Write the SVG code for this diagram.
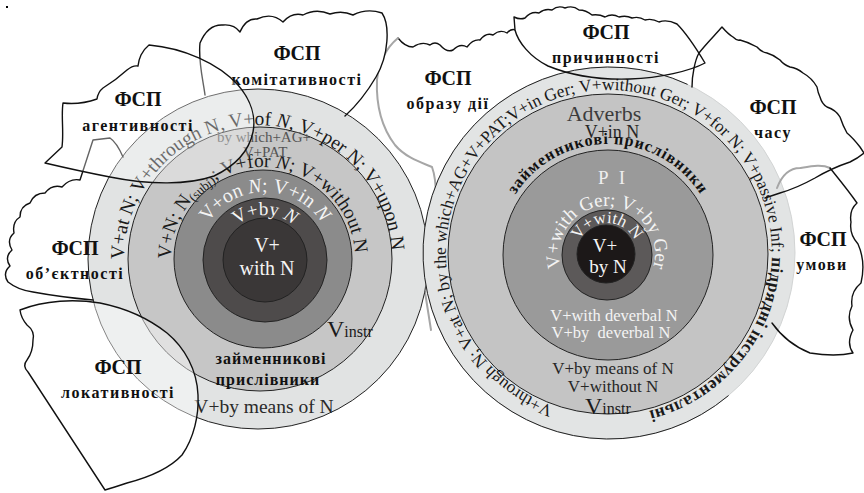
<svg xmlns="http://www.w3.org/2000/svg" width="864" height="493" viewBox="0 0 864 493">
<style>
.bg{fill:#fff;stroke:none}
.edge{fill:none;stroke:#111;stroke-width:1.4;stroke-linejoin:round;stroke-linecap:round}
.fade{fill:none;stroke:#a6a6a6;stroke-width:2;stroke-linecap:round}
.rg{stroke:#222;stroke-width:1}
text{font-family:"Liberation Serif","Times New Roman",serif}
.fsp{font-weight:bold;font-size:20px;text-anchor:middle;fill:#111}
.fsp2{font-weight:bold;font-size:16px;letter-spacing:1.5px;text-anchor:middle;fill:#111}
.rt{font-size:19.5px;fill:#1a1a1a}
.w{fill:#f4f4f4}
.mid{text-anchor:middle}
.it{font-style:italic}
</style>
<defs>
<path id="pLo" d="M126.03,282.27 A134,134 0 1,1 389.97,282.27"/>
<path id="pLc" d="M172.4,275 A92,92 0 1,1 353.6,275"/>
<path id="pLm" d="M198.03,248.19 A68,68 0 0,1 331.97,248.19"/>
<path id="pLd" d="M222.71,244.61 A45,45 0 0,1 307.29,244.61"/>
<path id="pRo" d="M566.8,410.5 A163,163 0 1,1 623.2,415.4"/>
<path id="pRz" d="M504.63,216.38 A110,110 0 0,1 711.37,216.38"/>
<path id="pRg" d="M565.43,278 A48,48 0 1,1 648.57,278"/>
<path id="pRw" d="M576.47,248.62 A31,31 0 0,1 637.53,248.62"/>
</defs>
<rect x="6" y="6" width="2" height="2" fill="#000"/>

<g id="blob-fills">
<g id="fsp-obrazu-dii-shape">
<path class="bg" d="M398,38 Q405,47 413,47 Q422,41 430,45 Q435,41 440,45 Q447,53 453,50 Q460,43 467,47 Q473,39 480,40 Q486,32 493,35 Q500,29 507,33 Q511,28 516,30 L560,60 L520,200 L432,330 L425,260 L436,200 C436,185 435,175 432,167 C420,162 405,157 395,145 C382,128 376,105 377,80 C379,62 386,48 398,38 Z"/>
<path class="edge" d="M398,38 Q405,47 413,47 Q422,41 430,45 Q435,41 440,45 Q447,53 453,50 Q460,43 467,47 Q473,39 480,40 Q486,32 493,35 Q500,29 507,33 Q511,28 516,30"/>
<path class="fade" d="M398,38 C386,48 379,62 377,80 C376,105 382,128 395,145 C405,157 420,162 432,167 C435,175 436,185 436,198"/>
<path class="fade" d="M425,292 C427,305 429,318 431,330"/>
</g>
<path class="bg" d="M200,43 Q208,24 223,25 Q234,24 240,32 Q246,18 257,19 Q272,12 283,22 Q292,12 303,15 Q316,8 330,14 Q342,10 353,15 Q367,8 382,13 C390,25 389,55 376,77 C366,94 356,106 345,116 L300,140 L220,130 C210,115 205,105 205,95 C203,80 198,60 200,43 Z"/>
<path class="bg" d="M93,140 L110,138 C116,142 120,150 123,157 L170,250 L93,300 Q60,297 33,292 Q18,290 8,282 Q2,273 10,266 Q4,257 12,250 Q6,240 14,233 Q12,222 20,217 Q20,206 30,203 Q34,193 45,193 Q52,184 62,187 Q70,178 80,180 C84,168 88,155 93,140 Z"/>
<path class="bg" d="M514,17 Q520,20 525,18 Q531,11 539,13 Q545,8 552,10 Q558,5 565,8 Q573,5 579,10 Q586,10 592,15 Q599,14 605,17 Q612,13 619,17 Q626,15 632,18 Q639,16 645,20 Q652,18 659,22 Q667,19 677,24 C685,32 696,48 705,63 C690,71 660,78 630,79 C600,80 570,75 548,66 C530,57 518,42 515,30 Z"/>
<path class="bg" d="M722,27 Q728,34 733,37 Q737,41 740,40 Q748,42 757,47 Q761,52 767,53 Q774,55 780,60 Q784,65 790,67 Q797,68 803,73 Q812,78 817,87 Q818,93 820,97 Q822,104 827,107 Q836,110 840,117 Q843,126 847,133 Q853,138 860,147 L864,153 Q858,158 850,162 Q832,168 815,178 Q797,188 780,193 L765,198 L700,200 L692,87 C692,75 695,60 699,53 C705,45 715,35 722,27 Z"/>
<path class="bg" d="M777,188 C782,175 790,168 800,168 C812,166 822,164 830,168 C838,178 848,190 857,203 Q849,210 851,222 Q849,234 858,244 Q866,262 861,283 Q850,292 852,306 Q846,318 853,330 Q846,343 853,353 Q835,357 810,353 C795,347 782,337 772,323 L760,250 Z"/>
</g>

<g id="circle-left">
<circle cx="258" cy="259" r="170" fill="#e1e3e3" class="rg"/>
<circle cx="260" cy="259" r="132" fill="#c6c6c6" class="rg"/>
<circle cx="263" cy="259" r="89" fill="#8b8b8b" class="rg"/>
<circle cx="265" cy="260" r="62" fill="#4e4b4b" class="rg"/>
<circle cx="265" cy="260" r="42" fill="#3a3737" class="rg"/>
<text class="rt"><textPath href="#pLo" startOffset="23">V+at N; V+through N, V+of <tspan class="it">N</tspan>, V+per N; V+upon N</textPath></text>
<text class="rt"><textPath href="#pLc" startOffset="16">V+N; N<tspan font-size="13" dy="3">(subj)</tspan><tspan dy="-3">; V+for </tspan><tspan class="it">N</tspan>; V+without N</textPath></text>
<text class="w mid" font-size="20"><textPath href="#pLm" startOffset="50%">V+on <tspan class="it">N</tspan>; V+in <tspan class="it">N</tspan></textPath></text>
<text class="w mid" font-size="19"><textPath href="#pLd" startOffset="50%">V+by <tspan class="it">N</tspan></textPath></text>
<text class="w mid" font-size="20" x="267" y="252">V+</text>
<text class="w mid" font-size="20" x="267" y="275">with N</text>
<text font-size="15" fill="#555" class="mid" x="264" y="142">by which+AG+</text>
<text font-size="15" fill="#555" class="mid" x="265" y="157">V+PAT</text>
<text fill="#1a1a1a" x="327" y="337"><tspan font-size="24">V</tspan><tspan font-size="16">instr</tspan></text>
<text class="fsp2" x="271" y="364" style="letter-spacing:1px">займенникові</text>
<text class="fsp2" x="268" y="385" style="letter-spacing:1px">прислівники</text>
<text class="mid" font-size="19.5" fill="#2a2a2a" x="264" y="413">V+by means of N</text>
</g>

<g id="circle-right">
<circle cx="609" cy="253" r="186" fill="#e2e4e4" stroke="#d2d4d4" stroke-width="1"/>
<path d="M728.6,395.5 A186,186 0 1,1 687.6,84.4" fill="none" stroke="#222" stroke-width="1"/>
<circle cx="608" cy="254" r="160" fill="#c4c4c4" class="rg"/>
<circle cx="608" cy="255" r="105" fill="#9a9a9a" class="rg"/>
<circle cx="607" cy="255" r="45" fill="#5c5959" class="rg"/>
<circle cx="606" cy="254" r="29" fill="#1c1818" class="rg"/>
<text font-size="17.3" fill="#1a1a1a"><textPath href="#pRo" startOffset="14">V+through N; V+at N; by the which+AG+V+PAT;V+in Ger; V+without Ger; V+for N; V+passive Inf; <tspan font-weight="bold" letter-spacing="0.5">підрядні інструментальні</tspan></textPath></text>
<text class="mid" font-size="22" fill="#3c3c3c" x="604" y="121">Adverbs</text>
<text class="mid" font-size="18" fill="#262626" x="612" y="138">V+in N</text>
<text class="mid" font-weight="bold" font-size="16" letter-spacing="1" fill="#111"><textPath href="#pRz" startOffset="50%">займенникові прислівники</textPath></text>
<text class="mid" font-size="19" fill="#eeeeee" letter-spacing="3" x="613" y="184">P I</text>
<text class="w mid" font-size="19"><textPath href="#pRg" startOffset="50%">V+with Ger; V+by Ger</textPath></text>
<text class="w mid" font-size="17"><textPath href="#pRw" startOffset="50%">V+with N</textPath></text>
<text class="w mid" font-size="19" x="605" y="252">V+</text>
<text class="w mid" font-size="19" x="608" y="273">by N</text>
<text class="w mid" font-size="16.5" x="614" y="321">V+with deverbal N</text>
<text class="w mid" font-size="16.5" x="611" y="338">V+by&#160; deverbal N</text>
<text class="mid" font-size="17" fill="#262626" x="613" y="374">V+by means of N</text>
<text class="mid" font-size="17" fill="#262626" x="613" y="392">V+without N</text>
<text fill="#1a1a1a" x="585" y="414"><tspan font-size="24">V</tspan><tspan font-size="16">instr</tspan></text>
</g>

<g id="fsp-komitatyvnosti">
<path class="edge" d="M205,95 C203,80 198,60 200,43 Q208,24 223,25 Q234,24 240,32 Q246,18 257,19 Q272,12 283,22 Q292,12 303,15 Q316,8 330,14 Q342,10 353,15 Q367,8 382,13 C390,25 389,55 376,77 C366,94 356,106 345,116"/>
<text class="fsp" x="297" y="60">ФСП</text>
<text class="fsp2" x="297" y="85">комітативності</text>
</g>

<g id="fsp-obyektnosti">
<path class="edge" d="M123,157 C120,150 116,142 110,138 L93,140 C88,155 84,168 80,180 Q70,178 62,187 Q52,184 45,193 Q34,193 30,203 Q20,206 20,217 Q12,222 14,233 Q6,240 12,250 Q4,257 10,266 Q2,273 8,282 Q18,290 33,292 Q60,297 93,300"/>
<text class="fsp" x="75" y="255">ФСП</text>
<text class="fsp2" x="75" y="279">об’єктності</text>
</g>

<g id="fsp-agentyvnosti">
<path class="edge" style="fill:#fff" fill-opacity="0.35" d="M45,163 L62,147 C64,132 61,116 63,103 Q80,105 97,99 Q98,92 103,88 Q116,80 127,70 Q133,65 138,66 Q139,59 141,55 Q144,49 149,45 C183,48 218,63 238,85 C251,100 256,117 253,132 C249,151 237,165 214,176 C188,185 150,185 110,177 C84,172 62,167 45,163 Z"/>
<text class="fsp" x="138" y="106">ФСП</text>
<text class="fsp2" x="138" y="131">агентивності</text>
</g>

<g id="fsp-lokatyvnosti">
<path class="edge" style="fill:#fff" fill-opacity="0.45" d="M20,310 Q21,318 27,325 Q35,331 33,340 Q33,352 27,360 Q22,366 28,372 L105,490 Q112,488 127,483 C150,477 170,468 182,455 C194,438 199,415 198,395 C197,370 185,348 167,333 C148,318 125,308 100,303 C75,299 45,300 20,310 Z"/>
<text class="fsp" x="118" y="374">ФСП</text>
<text class="fsp2" x="118" y="398">локативності</text>
</g>

<g id="fsp-obrazu-dii">
<text class="fsp" x="448" y="85">ФСП</text>
<text class="fsp2" x="448" y="109">образу дії</text>
</g>

<g id="fsp-prychynnosti">
<path class="edge" d="M514,17 Q520,20 525,18 Q531,11 539,13 Q545,8 552,10 Q558,5 565,8 Q573,5 579,10 Q586,10 592,15 Q599,14 605,17 Q612,13 619,17 Q626,15 632,18 Q639,16 645,20 Q652,18 659,22 Q667,19 677,24 C685,32 696,48 705,63 C690,71 660,78 630,79 C600,80 570,75 548,66 C530,57 518,42 515,30 Z"/>
<text class="fsp" x="606" y="39">ФСП</text>
<text class="fsp2" x="606" y="63">причинності</text>
</g>

<g id="fsp-chasu">
<path class="edge" d="M692,87 C692,75 695,60 699,53 C705,45 715,35 722,27 Q728,34 733,37 Q737,41 740,40 Q748,42 757,47 Q761,52 767,53 Q774,55 780,60 Q784,65 790,67 Q797,68 803,73 Q812,78 817,87 Q818,93 820,97 Q822,104 827,107 Q836,110 840,117 Q843,126 847,133 Q853,138 860,147 L864,153 Q858,158 850,162 Q832,168 815,178 Q797,188 780,193 L765,198"/>
<text class="fsp" x="773" y="114">ФСП</text>
<text class="fsp2" x="773" y="138">часу</text>
</g>

<g id="fsp-umovy">
<path class="fade" d="M777,188 C782,175 790,168 800,168 C812,166 822,164 830,168"/>
<path class="edge" d="M830,168 C838,178 848,190 857,203 Q849,210 851,222 Q849,234 858,244 Q866,262 861,283 Q850,292 852,306 Q846,318 853,330 Q846,343 853,353 Q835,357 810,353 C795,347 782,337 772,323"/>
<text class="fsp" x="823" y="246">ФСП</text>
<text class="fsp2" x="822" y="270">умови</text>
</g>
</svg>
